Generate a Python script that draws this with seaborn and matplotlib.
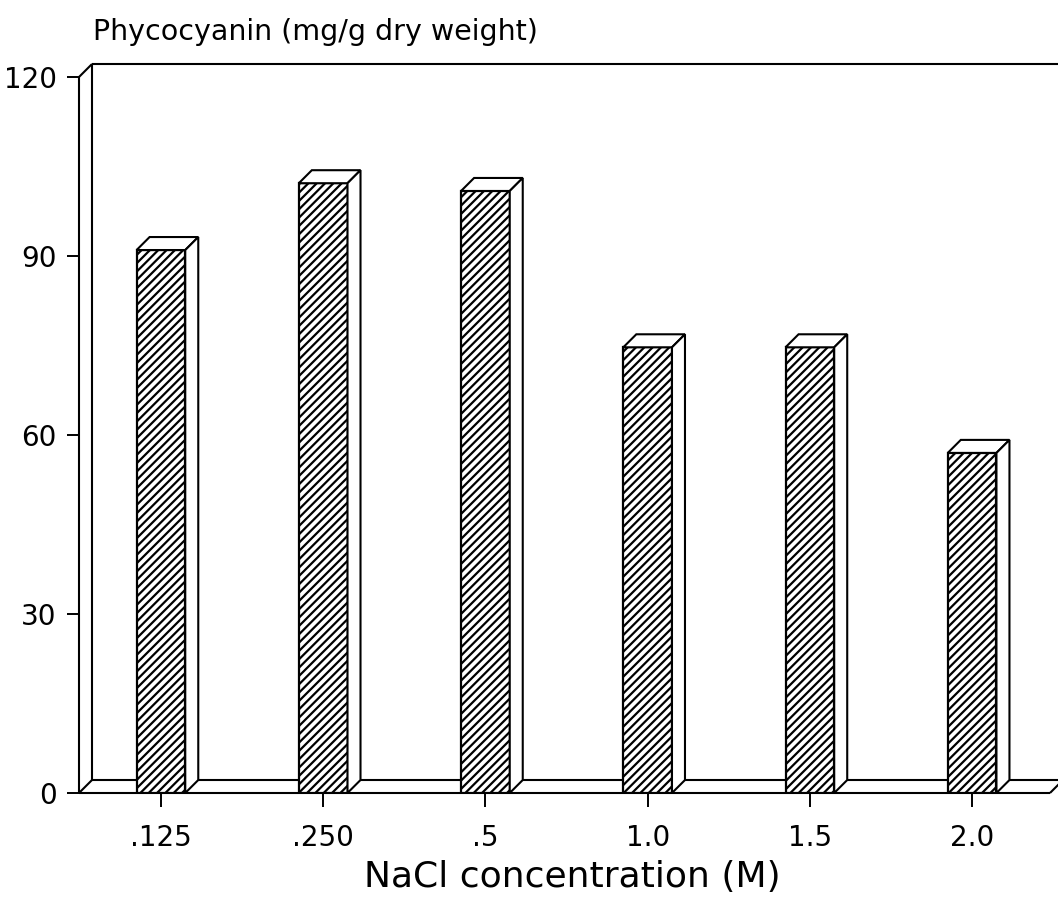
import matplotlib
matplotlib.use("Agg")
import matplotlib.pyplot as plt
import seaborn as sns
import pandas as pd
from matplotlib.patches import Polygon

# ---- data ----
concentrations = [".125", ".250", ".5", "1.0", "1.5", "2.0"]
phycocyanin = [91.0, 102.2, 100.9, 74.7, 74.7, 57.0]
y_ticks = [0, 30, 60, 90, 120]
title_text = "Phycocyanin (mg/g dry weight)"
xlabel_text = "NaCl concentration (M)"

sns.set_style("white")
plt.rcParams["font.family"] = ["DejaVu Sans"]
plt.rcParams["hatch.linewidth"] = 1.6
plt.rcParams["hatch.color"] = "black"

W, H, DPI = 1058, 910, 100
fig = plt.figure(figsize=(W / DPI, H / DPI), dpi=DPI)
left_px, right_px, bottom_px, top_px = 79, 1050, 793, 77
ax = fig.add_axes([left_px / W, (H - bottom_px) / H,
                   (right_px - left_px) / W, (bottom_px - top_px) / H])

df = pd.DataFrame({"conc": concentrations, "val": phycocyanin})
sns.barplot(data=df, x="conc", y="val", order=concentrations, color="white",
            edgecolor="black", linewidth=1.6, hatch="////", width=0.30,
            ax=ax, zorder=3)
for p in ax.patches:
    p.set_facecolor("white")
    p.set_edgecolor("black")

XL0, XL1 = -0.505, 5.48
ax.set_xlim(XL0, XL1)
ax.set_ylim(0, 120)

# depth offsets (px -> data)
D = 13
dx = D * (XL1 - XL0) / (right_px - left_px)
dy = D * 120 / (bottom_px - top_px)

lw = 1.5
kw = dict(color="black", lw=lw, clip_on=False, solid_capstyle="butt")
# back wall
ax.plot([XL0 + dx, XL0 + dx], [dy, 120 + dy], zorder=1, **kw)
ax.plot([XL0 + dx, XL1 + 2 * dx], [120 + dy, 120 + dy], zorder=1, **kw)
# floor
ax.plot([XL0 + dx, XL1 + 2 * dx], [dy, dy], zorder=1, **kw)
ax.plot([XL0, XL1], [0, 0], zorder=2, **kw)
ax.plot([XL0, XL0 + dx], [0, dy], zorder=2, **kw)
ax.plot([XL1, XL1 + dx], [0, dy], zorder=2, **kw)
# front y axis and top-left connector
ax.plot([XL0, XL0], [0, 120], zorder=2, **kw)
ax.plot([XL0, XL0 + dx], [120, 120 + dy], zorder=2, **kw)

# 3D top and side faces derived from the bars
for p in list(ax.patches):
    x0 = p.get_x()
    x1 = x0 + p.get_width()
    h = p.get_height()
    top = Polygon([(x0, h), (x0 + dx, h + dy), (x1 + dx, h + dy), (x1, h)],
                  closed=True, facecolor="white", edgecolor="black",
                  lw=1.5, zorder=4, joinstyle="miter")
    side = Polygon([(x1, 0), (x1, h), (x1 + dx, h + dy), (x1 + dx, dy)],
                   closed=True, facecolor="white", edgecolor="black",
                   lw=1.5, zorder=4, joinstyle="miter")
    ax.add_patch(top)
    ax.add_patch(side)

for s in ax.spines.values():
    s.set_visible(False)

ax.set_yticks(y_ticks)
ax.set_yticklabels([str(v) for v in y_ticks], fontsize=20)
ax.tick_params(axis="y", direction="out", length=9, width=1.4,
               pad=7, left=True, colors="black")
ax.tick_params(axis="x", direction="out", length=10, width=1.4,
               pad=12, bottom=True, labelsize=20, colors="black")
ax.set_xlabel("")
ax.set_ylabel("")

fig.text(93 / W, (H - 40) / H, title_text, fontsize=20.5,
         ha="left", va="baseline", color="black")
fig.text(572 / W, (H - 887) / H, xlabel_text, fontsize=26,
         ha="center", va="baseline", color="black")

fig.savefig("out.png", dpi=DPI, facecolor="white")
